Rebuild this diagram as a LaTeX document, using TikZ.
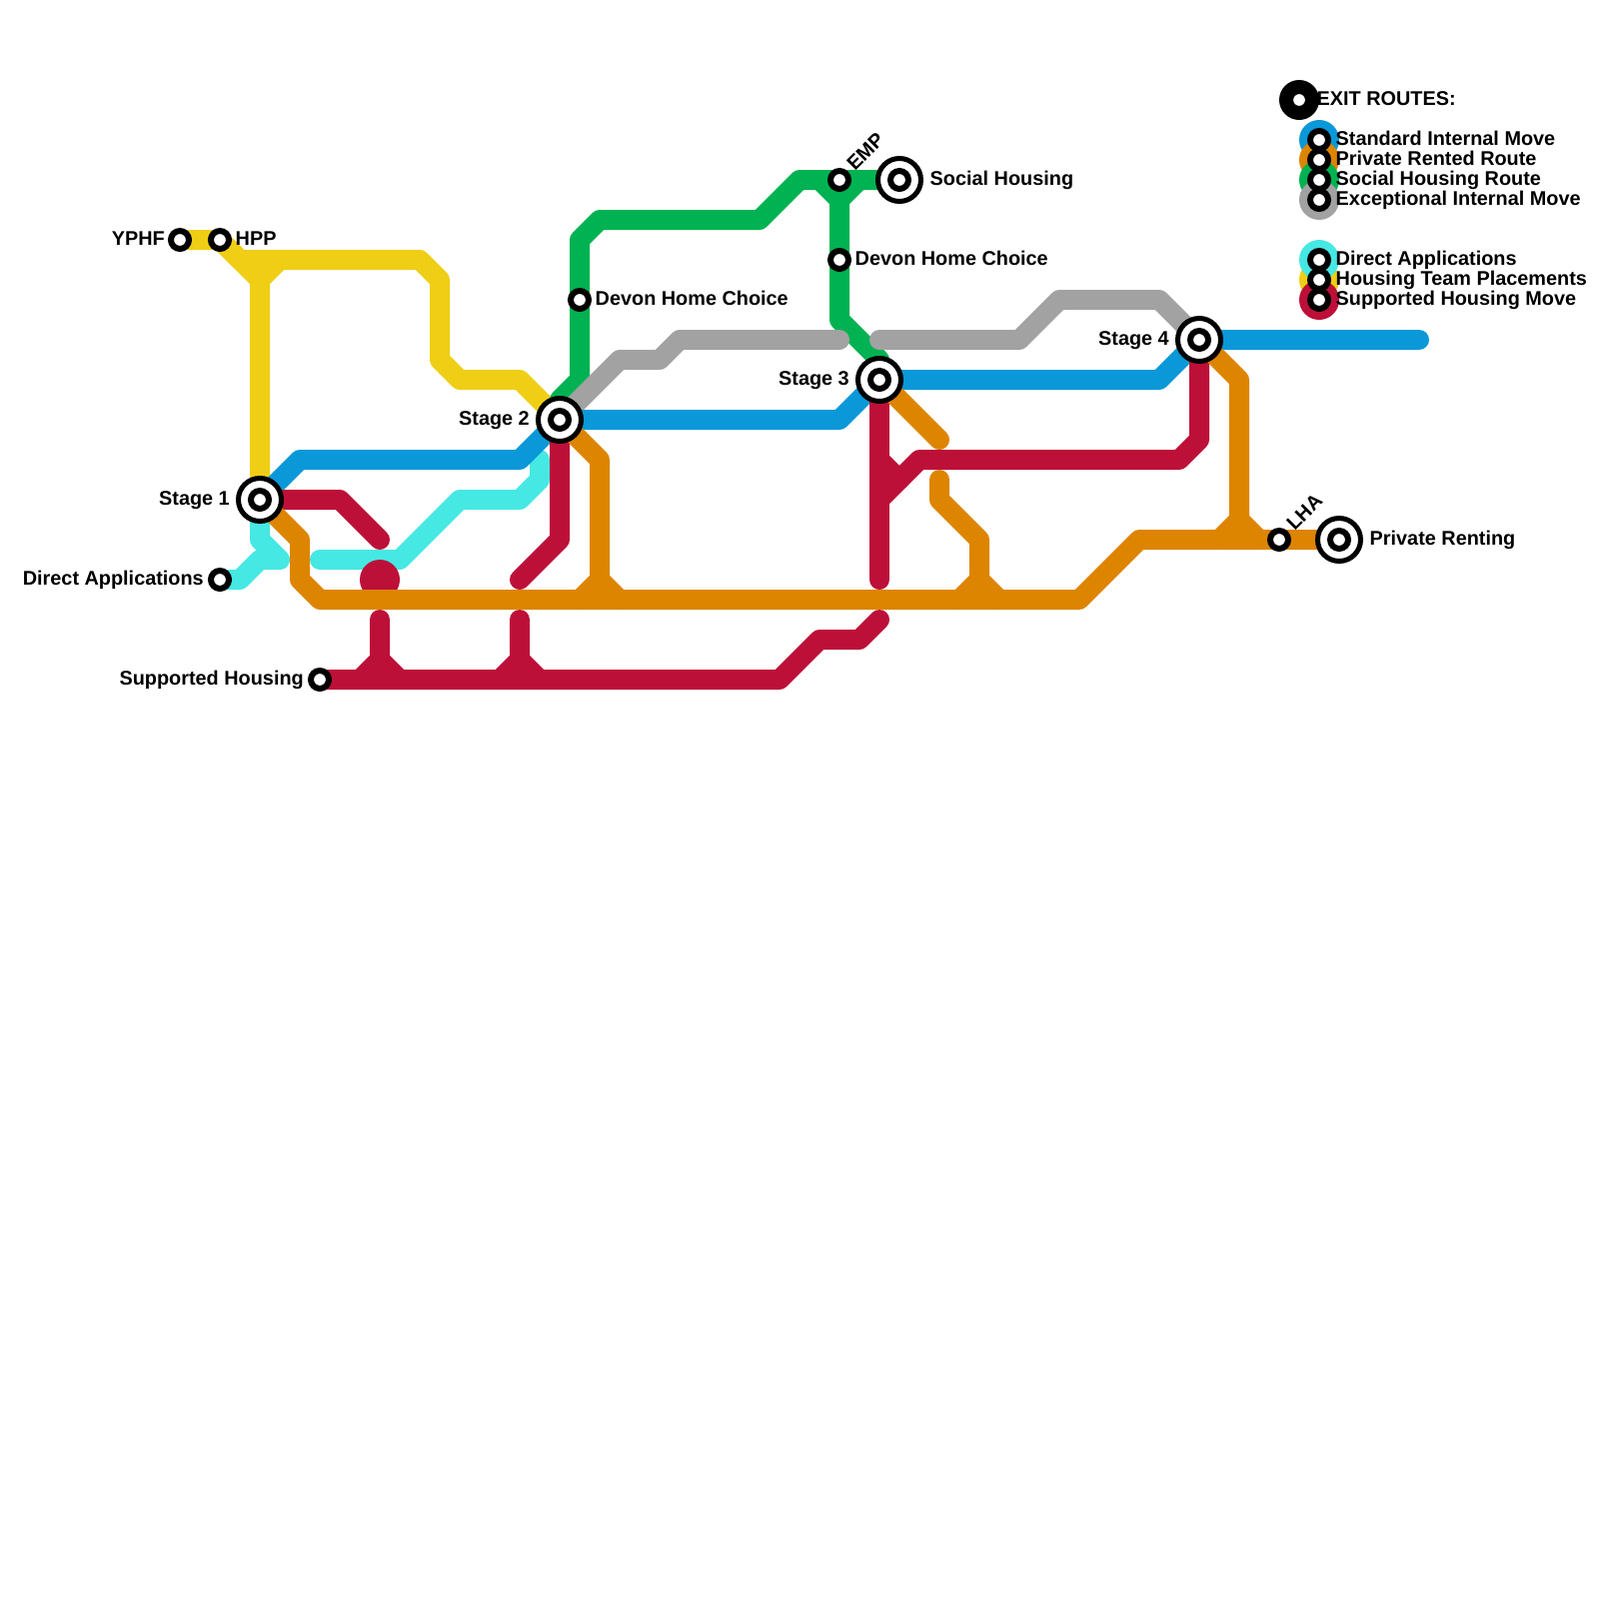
\documentclass[tikz,border=0pt]{standalone}
\usepackage{fontspec}
\setmainfont{Liberation Sans}
\usetikzlibrary{positioning,backgrounds}
\definecolor{stdblue}{HTML}{0A98D8}
\definecolor{privorange}{HTML}{DD8500}
\definecolor{socgreen}{HTML}{00B251}
\definecolor{excgrey}{HTML}{A2A2A2}
\definecolor{dircyan}{HTML}{46E8E4}
\definecolor{teamyellow}{HTML}{F0CE15}
\definecolor{suppred}{HTML}{BD1038}

\begin{document}
\begin{tikzpicture}[
  x=.1mm, y=-.1mm,
  stn/.style={circle, draw=black, fill=white, line width=.6mm, minimum size=1.8mm, inner sep=0pt, outer sep=0pt},
  term/.style={circle, draw=black, fill=white, line width=.5mm, minimum size=4.3mm, inner sep=0pt, outer sep=0pt},
  disc/.style={circle, minimum size=4mm, inner sep=0pt, outer sep=0pt},
  lbl/.style={inner sep=0pt, text height=1.45mm, text depth=0pt, font=\bfseries\fontsize{5.65pt}{6pt}\selectfont},
  route/.style={line width=2mm, line join=round, line cap=round},
]
  \useasboundingbox (0,0) rectangle (1600,1600);

  % legend discs
  \node[disc, fill=black] (keyexit) at (1300,100) {};
  \node[disc, fill=stdblue] (keyblue) at (1320,140) {};
  \node[disc, fill=privorange] (keyorange) at (1320,160) {};
  \node[disc, fill=socgreen] (keygreen) at (1320,180) {};
  \node[disc, fill=excgrey] (keygrey) at (1320,200) {};
  \node[disc, fill=teamyellow] (keyyellow) at (1320,280) {};
  \node[disc, fill=dircyan] (keycyan) at (1320,260) {};
  \node[disc, fill=suppred] (keyred) at (1320,300) {};
  \node[stn] (keyexitc) at (keyexit) {};
  \node[stn] (keybluec) at (keyblue) {};
  \node[stn] (keyorangec) at (keyorange) {};
  \node[stn] (keygreenc) at (keygreen) {};
  \node[stn] (keygreyc) at (keygrey) {};
  \node[stn] (keycyanc) at (keycyan) {};
  \node[stn] (keyyellowc) at (keyyellow) {};
  \node[stn] (keyredc) at (keyred) {};

  % stages and exits
  \node[term] (stage1) at (260,500) {};
  \node[stn] (stage1c) at (stage1) {};
  \node[term] (stage2) at (560,420) {};
  \node[stn] (stage2c) at (stage2) {};
  \node[term] (stage3) at (880,380) {};
  \node[stn] (stage3c) at (stage3) {};
  \node[term] (stage4) at (1200,340) {};
  \node[stn] (stage4c) at (stage4) {};
  \node[term] (social) at (900,180) {};
  \node[stn] (socialc) at (social) {};
  \node[term] (private) at (1340,540) {};
  \node[stn] (privatec) at (private) {};

  % stops
  \node[stn] (yphf) at (180,240) {};
  \node[stn] (hpp) at (220,240) {};
  \node[stn] (direct) at (220,580) {};
  \node[stn] (supported) at (320,680) {};
  \node[stn] (devon1) at (580,300) {};
  \node[stn] (emp) at (840,180) {};
  \node[stn] (devon2) at (840,260) {};
  \node[stn] (lha) at (1280,540) {};

  % free ends
  \coordinate (blueend) at (1420,340);
  \coordinate (hppfork) at (260,280);
  \coordinate (hppright) at (280,260);
  \coordinate (cyanfork) at (280,560);
  \coordinate (cyanstart) at (320,560);
  \coordinate (cyantop) at (540,460);
  \coordinate (greenfork) at (840,200);
  \coordinate (greenstub) at (820,180);
  \coordinate (greyend) at (840,340);
  \coordinate (greystart) at (880,340);
  \coordinate (redend1) at (380,540);
  \coordinate (redend2) at (520,580);
  \coordinate (redend3) at (880,580);
  \coordinate (redend4) at (880,620);
  \coordinate (redstub1) at (380,620);
  \coordinate (redstub2) at (520,620);
  \coordinate (orangeend) at (940,440);
  \coordinate (orangestart) at (940,480);

  \begin{pgfonlayer}{background}
    \draw[route, dircyan] (stage1.center) -- (260,540) -- (cyanfork) -- (260,560) -- (240,580) -- (direct.center);
    \draw[route, dircyan] (cyanstart) -- (400,560) -- (460,500) -- (520,500) -- (540,480) -- (cyantop);

    \draw[route, teamyellow] (yphf.center) -- (hpp.center) -- (240,260) -- (420,260) -- (440,280) -- (440,360) -- (460,380) -- (520,380) -- (stage2.center);
    \draw[route, teamyellow] (hpp.center) -- (hppfork) -- (stage1.center);
    \draw[route, teamyellow] (hppfork) -- (hppright);

    \draw[route, socgreen] (stage2.center) -- (560,400) -- (580,380) -- (devon1.center) -- (580,240) -- (600,220) -- (760,220) -- (800,180) -- (social.center);
    \draw[route, socgreen] (greenstub) -- (greenfork) -- (devon2.center) -- (840,320) -- (880,360) -- (stage3.center);
    \draw[route, socgreen] (greenfork) -- (860,180);

    \draw[route, excgrey] (stage2.center) -- (620,360) -- (660,360) -- (680,340) -- (greyend);
    \draw[route, excgrey] (greystart) -- (1020,340) -- (1060,300) -- (1160,300) -- (stage4.center);

    \draw[route, stdblue] (stage1.center) -- (300,460) -- (520,460) -- (stage2.center) -- (840,420) -- (stage3.center) -- (1160,380) -- (stage4.center) -- (blueend);

    \draw[route, suppred] (stage1.center) -- (340,500) -- (redend1);
    \node[disc, fill=suppred] (reddot) at (380,580) {};
    \draw[route, suppred] (stage2.center) -- (560,540) -- (redend2);
    \draw[route, suppred] (stage3.center) -- (redend3);
    \draw[route, suppred] (880,460) -- (900,480);
    \draw[route, suppred] (880,500) -- (920,460) -- (1180,460) -- (1200,440) -- (stage4.center);
    \draw[route, suppred] (supported.center) -- (780,680) -- (820,640) -- (860,640) -- (redend4);
    \draw[route, suppred] (redstub1) -- (380,660) -- (360,680);
    \draw[route, suppred] (380,660) -- (400,680);
    \draw[route, suppred] (redstub2) -- (520,660) -- (500,680);
    \draw[route, suppred] (520,660) -- (540,680);

    \draw[route, privorange] (stage1.center) -- (300,540) -- (300,580) -- (320,600) -- (1080,600) -- (1140,540) -- (private.center);
    \draw[route, privorange] (stage2.center) -- (600,460) -- (600,580) -- (580,600);
    \draw[route, privorange] (600,580) -- (620,600);
    \draw[route, privorange] (stage3.center) -- (orangeend);
    \draw[route, privorange] (orangestart) -- (940,500) -- (980,540) -- (980,580) -- (960,600);
    \draw[route, privorange] (980,580) -- (1000,600);
    \draw[route, privorange] (stage4.center) -- (1240,380) -- (1240,520) -- (1220,540);
    \draw[route, privorange] (1240,520) -- (1260,540);
  \end{pgfonlayer}

  % labels
  \node[lbl, left=1.45mm of yphf.center, yshift=.2mm] (yphflbl) {YPHF};
  \node[lbl, right=1.5mm of hpp.center, yshift=.2mm] (hpplbl) {HPP};
  \node[lbl, left=2.95mm of stage1.center, yshift=.2mm] (stage1lbl) {Stage 1};
  \node[lbl, left=1.55mm of direct.center, yshift=.2mm] (directlbl) {Direct Applications};
  \node[lbl, left=1.55mm of supported.center, yshift=.2mm] (supportedlbl) {Supported Housing};
  \node[lbl, left=2.95mm of stage2.center, yshift=.2mm] (stage2lbl) {Stage 2};
  \node[lbl, left=2.95mm of stage3.center, yshift=.2mm] (stage3lbl) {Stage 3};
  \node[lbl, left=2.95mm of stage4.center, yshift=.2mm] (stage4lbl) {Stage 4};
  \node[lbl, right=1.5mm of devon1.center, yshift=.2mm] (devon1lbl) {Devon Home Choice};
  \node[lbl, right=1.5mm of devon2.center, yshift=.2mm] (devon2lbl) {Devon Home Choice};
  \node[lbl, right=3mm of social.center, yshift=.2mm] (sociallbl) {Social Housing};
  \node[lbl, right=3mm of private.center, yshift=.2mm] (privatelbl) {Private Renting};
  \node[lbl, rotate=45, anchor=west] (emplbl) at (850,167) {EMP};
  \node[lbl, rotate=45, anchor=west] (lhalbl) at (1290,527) {LHA};

  \node[lbl, anchor=west] (keyexitlbl) at (1317,98) {EXIT ROUTES:};
  \node[lbl, anchor=west] (keybluelbl) at (1336,138) {Standard Internal Move};
  \node[lbl, anchor=west] (keyorangelbl) at (1336,158) {Private Rented Route};
  \node[lbl, anchor=west] (keygreenlbl) at (1336,178) {Social Housing Route};
  \node[lbl, anchor=west] (keygreylbl) at (1336,198) {Exceptional Internal Move};
  \node[lbl, anchor=west] (keycyanlbl) at (1336,258) {Direct Applications};
  \node[lbl, anchor=west] (keyyellowlbl) at (1336,278) {Housing Team Placements};
  \node[lbl, anchor=west] (keyredlbl) at (1336,298) {Supported Housing Move};
\end{tikzpicture}
\end{document}
